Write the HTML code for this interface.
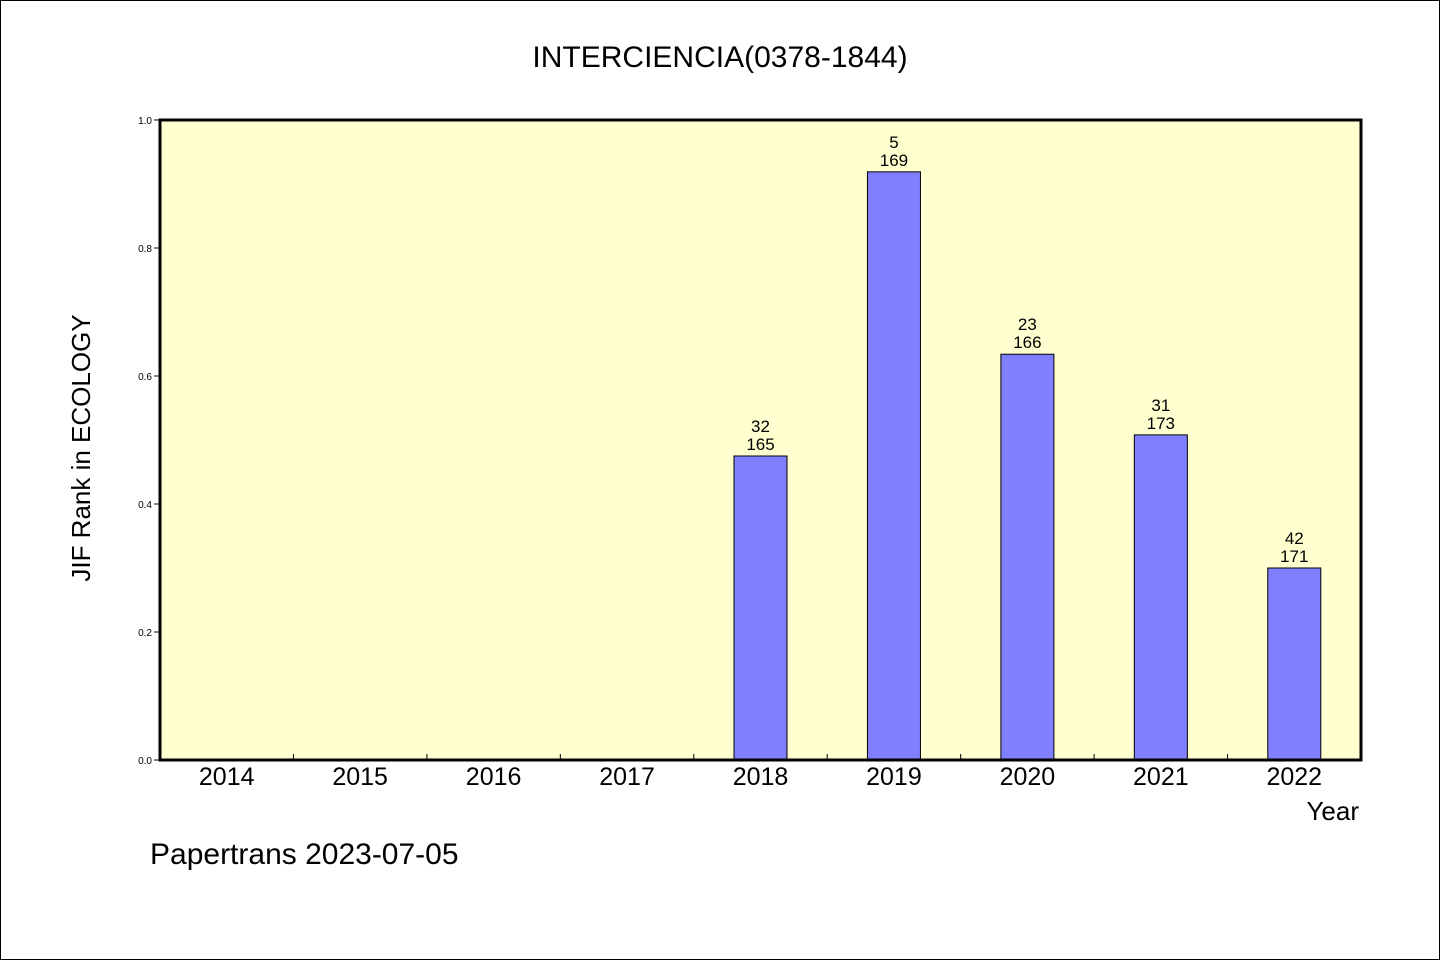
<!DOCTYPE html>
<html><head><meta charset="utf-8"><style>
html,body{margin:0;padding:0;background:#fff}
svg{display:block}
text{font-family:"WenQuanYi Zen Hei","Liberation Sans",sans-serif;fill:#000}
</style></head><body>
<svg id="chart" width="1440" height="960">
<rect x="0.5" y="0.5" width="1439" height="959" fill="#fff" stroke="#000"/>
<text x="720" y="67" font-size="30" text-anchor="middle">INTERCIENCIA(0378-1844)</text>
<rect x="160" y="120" width="1201" height="640" fill="#ffffd0"/>
<g id="marks"></g>
<rect x="160" y="120" width="1201" height="640" fill="none" stroke="#000" stroke-width="3"/>
<text transform="translate(90,448) rotate(-90)" font-size="26" text-anchor="middle">JIF Rank in ECOLOGY</text>
<text x="1359" y="820" font-size="26" text-anchor="end">Year</text>
<text x="150" y="864" font-size="30">Papertrans 2023-07-05</text>
</svg>
<script>
const categories=["2014","2015","2016","2017","2018","2019","2020","2021","2022"];
const values=[null,null,null,null,0.475,0.919,0.634,0.508,0.30];
const ranks=[null,null,null,null,"32","5","23","31","42"];
const totals=[null,null,null,null,"165","169","166","173","171"];
const yTicks=[0,0.2,0.4,0.6,0.8,1.0];
const X0=160,X1=1361,Y0=760,Y1=120;
const bw=(X1-X0)/categories.length;
const x=i=>X0+bw*(i+0.5);
const y=v=>Y0-(v-0)/(1-0)*(Y0-Y1);
const g=document.getElementById('marks');
const NS='http://www.w3.org/2000/svg';
function mk(t,a){const e=document.createElementNS(NS,t);for(const k in a)e.setAttribute(k,a[k]);g.appendChild(e);return e;}
yTicks.forEach(v=>{
 const l=mk('line',{x1:X0-6,x2:X0,y1:y(v),y2:y(v),stroke:'#000'});
 
 
 const t=mk('text',{x:X0-8,y:y(v)+4,'font-size':10,'text-anchor':'end'});t.textContent=v.toFixed(1);
 
 
});
categories.forEach((c,i)=>{
 if(i>0){const l=mk('line',{x1:X0+bw*i,x2:X0+bw*i,y1:Y0,y2:Y0-6,stroke:'#000'});
 
 }
 const t=mk('text',{x:x(i),y:785,'font-size':25,'text-anchor':'middle'});t.textContent=c;
 
 
 if(values[i]!=null){
  const r=mk('rect',{x:x(i)-26.5,y:y(values[i]),width:53,height:Y0-y(values[i]),fill:'#8080ff',stroke:'#000','stroke-width':1});
  
  
  const a=mk('text',{x:x(i),y:y(values[i])-24,'font-size':17,'text-anchor':'middle'});a.textContent=ranks[i];
  
  
  const b=mk('text',{x:x(i),y:y(values[i])-6,'font-size':17,'text-anchor':'middle'});b.textContent=totals[i];
  
  
 }
});
</script>
</body></html>
